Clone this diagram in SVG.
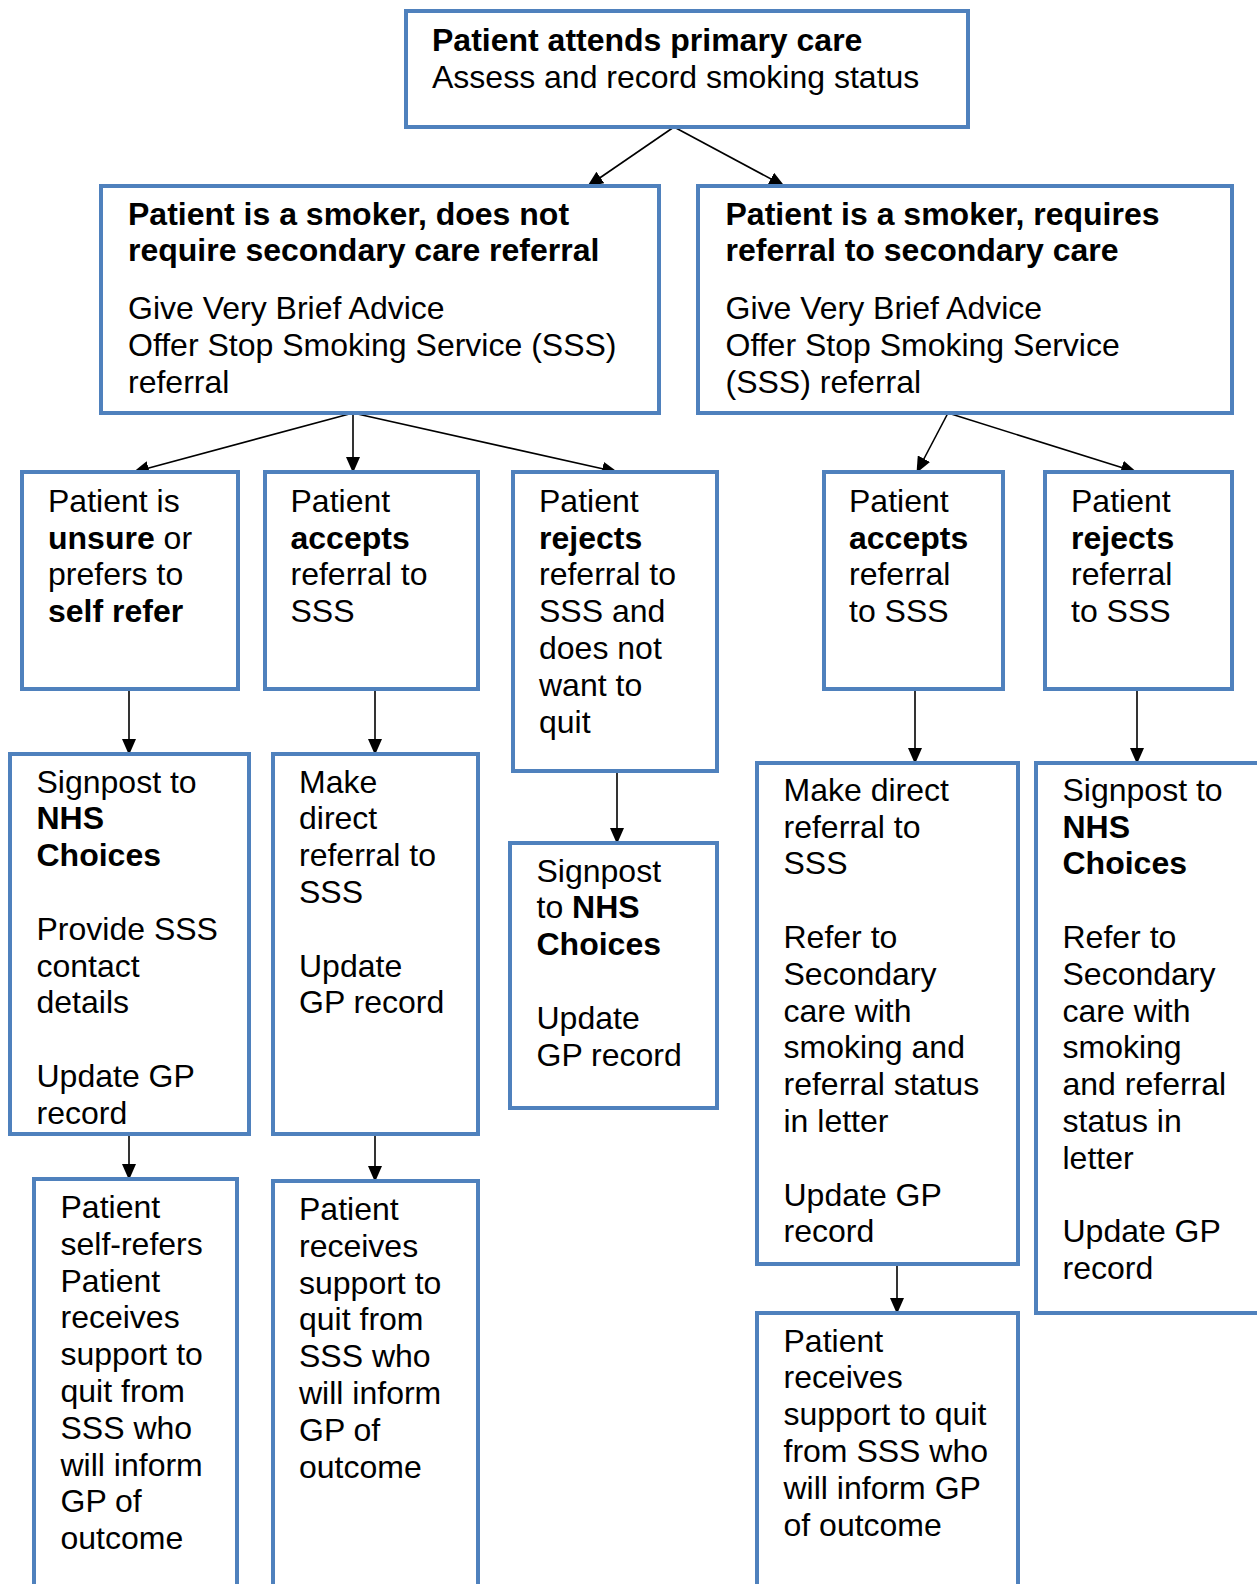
<svg xmlns="http://www.w3.org/2000/svg" width="1257" height="1584" viewBox="0 0 1257 1584">
<style>
.box{fill:#fff;stroke:#4F81BD;stroke-width:4}
.t{font-family:"Liberation Sans",Arial,sans-serif;font-size:32px;fill:#000}
.b{font-weight:bold}
.c{stroke:#000;stroke-width:1.6;fill:none;marker-end:url(#ah)}
</style>
<defs>
<marker id="ah" markerWidth="16" markerHeight="14" refX="15" refY="7" orient="auto" markerUnits="userSpaceOnUse">
<path d="M0,0 L16,7 L0,14 Z" fill="#000"/>
</marker>
</defs>
<rect width="1257" height="1584" fill="#fff"/>
<g id="connectors">
<line class="c" x1="674" y1="127" x2="588" y2="186"/>
<line class="c" x1="674" y1="127" x2="784" y2="186"/>
<line class="c" x1="353" y1="413" x2="134" y2="472"/>
<line class="c" x1="353" y1="413" x2="353" y2="472"/>
<line class="c" x1="353" y1="413" x2="617" y2="472"/>
<line class="c" x1="948" y1="413" x2="917" y2="472"/>
<line class="c" x1="948" y1="413" x2="1136" y2="472"/>
<line class="c" x1="129" y1="689" x2="129" y2="754"/>
<line class="c" x1="375" y1="689" x2="375" y2="754"/>
<line class="c" x1="617" y1="771" x2="617" y2="843"/>
<line class="c" x1="915" y1="689" x2="915" y2="763"/>
<line class="c" x1="1137" y1="689" x2="1137" y2="763"/>
<line class="c" x1="129" y1="1134" x2="129" y2="1179"/>
<line class="c" x1="375" y1="1134" x2="375" y2="1181"/>
<line class="c" x1="897" y1="1264" x2="897" y2="1313"/>
</g>
<g id="n_top">
<rect class="box" x="406" y="11" width="562" height="116"/>
<text class="t" x="432" y="51"><tspan class="b">Patient attends primary care</tspan><tspan x="432" dy="36.5">Assess and record smoking status</tspan></text>
</g>
<g id="n_smoker_no_ref">
<rect class="box" x="101" y="186" width="558" height="227"/>
<text class="t" x="128" y="224.5"><tspan class="b">Patient is a smoker, does not</tspan><tspan class="b" x="128" dy="36.5">require secondary care referral</tspan><tspan x="128" dy="57.5">Give Very Brief Advice</tspan><tspan x="128" dy="37.2">Offer Stop Smoking Service (SSS)</tspan><tspan x="128" dy="37.2">referral</tspan></text>
</g>
<g id="n_smoker_ref">
<rect class="box" x="698" y="186" width="534" height="227"/>
<text class="t" x="725.5" y="224.5"><tspan class="b">Patient is a smoker, requires</tspan><tspan class="b" x="725.5" dy="36.5">referral to secondary care</tspan><tspan x="725.5" dy="57.5">Give Very Brief Advice</tspan><tspan x="725.5" dy="37.2">Offer Stop Smoking Service</tspan><tspan x="725.5" dy="37.2">(SSS) referral</tspan></text>
</g>
<g id="n_unsure">
<rect class="box" x="22" y="472" width="216" height="217"/>
<text class="t" x="48" y="511.7"><tspan>Patient is</tspan><tspan x="48" dy="36.8"><tspan class="b">unsure</tspan> or</tspan><tspan x="48" dy="36.8">prefers to</tspan><tspan class="b" x="48" dy="36.8">self refer</tspan></text>
</g>
<g id="n_accepts_l">
<rect class="box" x="265" y="472" width="213" height="217"/>
<text class="t" x="290.5" y="511.7"><tspan>Patient</tspan><tspan class="b" x="290.5" dy="36.8">accepts</tspan><tspan x="290.5" dy="36.8">referral to</tspan><tspan x="290.5" dy="36.8">SSS</tspan></text>
</g>
<g id="n_rejects_l">
<rect class="box" x="513" y="472" width="204" height="299"/>
<text class="t" x="539" y="511.7"><tspan>Patient</tspan><tspan class="b" x="539" dy="36.8">rejects</tspan><tspan x="539" dy="36.8">referral to</tspan><tspan x="539" dy="36.8">SSS and</tspan><tspan x="539" dy="36.8">does not</tspan><tspan x="539" dy="36.8">want to</tspan><tspan x="539" dy="36.8">quit</tspan></text>
</g>
<g id="n_accepts_r">
<rect class="box" x="824" y="472" width="179" height="217"/>
<text class="t" x="849" y="511.7"><tspan>Patient</tspan><tspan class="b" x="849" dy="36.8">accepts</tspan><tspan x="849" dy="36.8">referral</tspan><tspan x="849" dy="36.8">to SSS</tspan></text>
</g>
<g id="n_rejects_r">
<rect class="box" x="1045" y="472" width="187" height="217"/>
<text class="t" x="1071" y="511.7"><tspan>Patient</tspan><tspan class="b" x="1071" dy="36.8">rejects</tspan><tspan x="1071" dy="36.8">referral</tspan><tspan x="1071" dy="36.8">to SSS</tspan></text>
</g>
<g id="n_signpost_a">
<rect class="box" x="10" y="754" width="239" height="380"/>
<text class="t" x="36.5" y="792.6"><tspan>Signpost to</tspan><tspan class="b" x="36.5" dy="36.8">NHS</tspan><tspan class="b" x="36.5" dy="36.8">Choices</tspan><tspan x="36.5" dy="73.6">Provide SSS</tspan><tspan x="36.5" dy="36.8">contact</tspan><tspan x="36.5" dy="36.8">details</tspan><tspan x="36.5" dy="73.6">Update GP</tspan><tspan x="36.5" dy="36.8">record</tspan></text>
</g>
<g id="n_direct_b">
<rect class="box" x="273" y="754" width="205" height="380"/>
<text class="t" x="299" y="792.6"><tspan>Make</tspan><tspan x="299" dy="36.8">direct</tspan><tspan x="299" dy="36.8">referral to</tspan><tspan x="299" dy="36.8">SSS</tspan><tspan x="299" dy="73.6">Update</tspan><tspan x="299" dy="36.8">GP record</tspan></text>
</g>
<g id="n_signpost_c">
<rect class="box" x="510" y="843" width="207" height="265"/>
<text class="t" x="536.5" y="881.6"><tspan>Signpost</tspan><tspan x="536.5" dy="36.8">to <tspan class="b">NHS</tspan></tspan><tspan class="b" x="536.5" dy="36.8">Choices</tspan><tspan x="536.5" dy="73.6">Update</tspan><tspan x="536.5" dy="36.8">GP record</tspan></text>
</g>
<g id="n_direct_d">
<rect class="box" x="757" y="763" width="261" height="501"/>
<text class="t" x="783.5" y="800.7"><tspan>Make direct</tspan><tspan x="783.5" dy="36.8">referral to</tspan><tspan x="783.5" dy="36.8">SSS</tspan><tspan x="783.5" dy="73.6">Refer to</tspan><tspan x="783.5" dy="36.8">Secondary</tspan><tspan x="783.5" dy="36.8">care with</tspan><tspan x="783.5" dy="36.8">smoking and</tspan><tspan x="783.5" dy="36.8">referral status</tspan><tspan x="783.5" dy="36.8">in letter</tspan><tspan x="783.5" dy="73.6">Update GP</tspan><tspan x="783.5" dy="36.8">record</tspan></text>
</g>
<g id="n_signpost_e">
<rect class="box" x="1036" y="763" width="240" height="550"/>
<text class="t" x="1062.5" y="800.7"><tspan>Signpost to</tspan><tspan class="b" x="1062.5" dy="36.8">NHS</tspan><tspan class="b" x="1062.5" dy="36.8">Choices</tspan><tspan x="1062.5" dy="73.6">Refer to</tspan><tspan x="1062.5" dy="36.8">Secondary</tspan><tspan x="1062.5" dy="36.8">care with</tspan><tspan x="1062.5" dy="36.8">smoking</tspan><tspan x="1062.5" dy="36.8">and referral</tspan><tspan x="1062.5" dy="36.8">status in</tspan><tspan x="1062.5" dy="36.8">letter</tspan><tspan x="1062.5" dy="73.6">Update GP</tspan><tspan x="1062.5" dy="36.8">record</tspan></text>
</g>
<g id="n_selfrefers">
<rect class="box" x="34" y="1179" width="203" height="430"/>
<text class="t" x="60.5" y="1218"><tspan>Patient</tspan><tspan x="60.5" dy="36.8">self-refers</tspan><tspan x="60.5" dy="36.8">Patient</tspan><tspan x="60.5" dy="36.8">receives</tspan><tspan x="60.5" dy="36.8">support to</tspan><tspan x="60.5" dy="36.8">quit from</tspan><tspan x="60.5" dy="36.8">SSS who</tspan><tspan x="60.5" dy="36.8">will inform</tspan><tspan x="60.5" dy="36.8">GP of</tspan><tspan x="60.5" dy="36.8">outcome</tspan></text>
</g>
<g id="n_support_b">
<rect class="box" x="273" y="1181" width="205" height="430"/>
<text class="t" x="299" y="1220"><tspan>Patient</tspan><tspan x="299" dy="36.8">receives</tspan><tspan x="299" dy="36.8">support to</tspan><tspan x="299" dy="36.8">quit from</tspan><tspan x="299" dy="36.8">SSS who</tspan><tspan x="299" dy="36.8">will inform</tspan><tspan x="299" dy="36.8">GP of</tspan><tspan x="299" dy="36.8">outcome</tspan></text>
</g>
<g id="n_support_d">
<rect class="box" x="757" y="1313" width="261" height="300"/>
<text class="t" x="783.5" y="1351.5"><tspan>Patient</tspan><tspan x="783.5" dy="36.8">receives</tspan><tspan x="783.5" dy="36.8">support to quit</tspan><tspan x="783.5" dy="36.8">from SSS who</tspan><tspan x="783.5" dy="36.8">will inform GP</tspan><tspan x="783.5" dy="36.8">of outcome</tspan></text>
</g>
</svg>
